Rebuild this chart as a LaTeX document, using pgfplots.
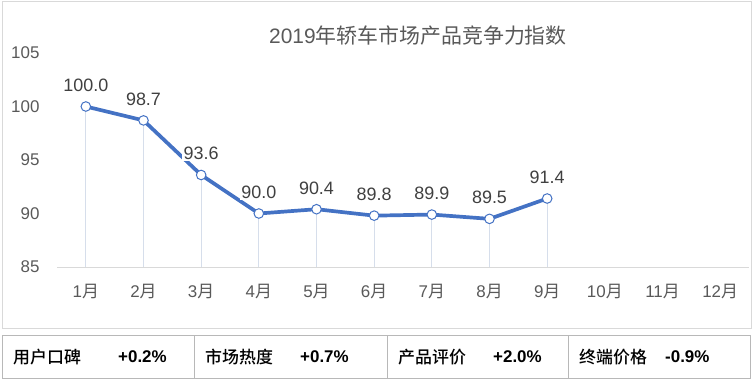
\documentclass[border=0pt]{standalone}
\usepackage{fontspec}
\setmainfont{Liberation Sans}
\newfontfamily\cjk{Noto Sans CJK SC}
\newfontfamily\cjkmed{Noto Sans CJK SC}[UprightFont=* Medium]
\usepackage{pgfplots}
\pgfplotsset{compat=1.18}
\definecolor{lineblue}{HTML}{4472C4}
\definecolor{txtgray}{HTML}{595959}
\definecolor{lblgray}{HTML}{404040}
\definecolor{framegray}{HTML}{D9D9D9}
\definecolor{dropc}{HTML}{D6DEEB}
\newcommand\yue{{\cjk 月}}
\begin{document}
\begin{tikzpicture}[x=1bp,y=1bp]
\useasboundingbox (0,0) rectangle (753,381);
% chart frame
\draw[framegray, line width=1bp] (2,53) rectangle (751,379);
% title
\node[text=txtgray, font=\fontsize{21}{25}\selectfont] at (418,345) {2019{\cjk 年轿车市场产品竞争力指数}};
\begin{axis}[
  at={(57bp,114bp)}, anchor=south west,
  scale only axis, width=692bp, height=214bp,
  xmin=0.5, xmax=12.5, ymin=85, ymax=105,
  xtick={1,...,12},
  xticklabels={1\yue,2\yue,3\yue,4\yue,5\yue,6\yue,7\yue,8\yue,9\yue,10\yue,11\yue,12\yue},
  ytick={85,90,95,100,105},
  axis x line*=bottom, axis y line*=left,
  x axis line style={draw=framegray, line width=1bp, -},
  y axis line style={draw=none},
  major tick length=0pt,
  /pgf/number format/assume math mode=true,
  tick label style={text=txtgray, font=\fontsize{17}{20}\selectfont},
  yticklabel style={anchor=east, xshift=-14bp},
  xticklabel style={anchor=north, yshift=-14bp},
]
\addplot[ycomb, draw=dropc, line width=0.8bp, mark=none] coordinates {
 (1,100.0) (2,98.7) (3,93.6) (4,90.0) (5,90.4) (6,89.8) (7,89.9) (8,89.5) (9,91.4)};
\addplot[lineblue, line width=3.7bp, mark=*, mark size=4.8bp,
  mark options={fill=white, draw=lineblue, line width=1bp},
  nodes near coords,
  point meta=explicit symbolic,
  every node near coord/.append style={anchor=south, fill=white, inner sep=1.5bp, yshift=13bp, text=lblgray, font=\fontsize{18}{21}\selectfont},
] coordinates {
 (1,100.0) [100.0] (2,98.7) [98.7] (3,93.6) [93.6] (4,90.0) [90.0] (5,90.4) [90.4]
 (6,89.8) [89.8] (7,89.9) [89.9] (8,89.5) [89.5] (9,91.4) [91.4]};
\end{axis}
% bottom table
\draw[framegray!85!black, line width=1bp] (2,3) rectangle (750,46);
\draw[framegray!85!black, line width=1bp] (194,3) -- (194,46);
\draw[framegray!85!black, line width=1bp] (387,3) -- (387,46);
\draw[framegray!85!black, line width=1bp] (568,3) -- (568,46);
\begin{scope}[every node/.style={anchor=west, inner sep=0pt, font=\fontsize{17}{20}\selectfont}]
\node at (13,24) {\cjkmed 用户口碑};
\node at (118,24) {\bfseries +0.2\%};
\node at (205,24) {\cjkmed 市场热度};
\node at (300,24) {\bfseries +0.7\%};
\node at (398,24) {\cjkmed 产品评价};
\node at (493,24) {\bfseries +2.0\%};
\node at (579,24) {\cjkmed 终端价格};
\node at (665,24) {\bfseries -0.9\%};
\end{scope}
\end{tikzpicture}
\end{document}
